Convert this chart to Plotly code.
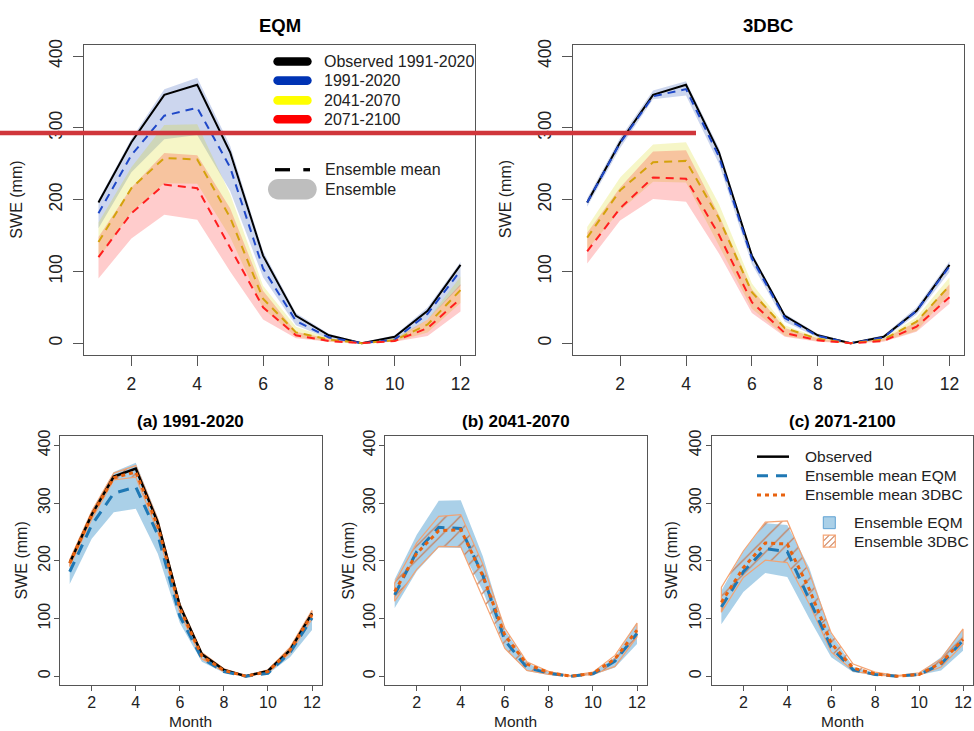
import plotly.graph_objects as go

# ---- monthly SWE climatologies (mm) ----
months = list(range(1, 13))
month_ticks = [2, 4, 6, 8, 10, 12]
swe_ticks = [0, 100, 200, 300, 400]

obs = [196, 280, 346, 360, 266, 122, 38, 11, 0, 9, 45, 109]

# EQM ensemble (mean / min / max)
eqm_hist_mean = [181, 262, 317, 328, 245, 104, 31, 8, 0, 5, 41, 101]
eqm_hist_lo = [160, 238, 284, 290, 212, 92, 25, 6, 0, 4, 33, 80]
eqm_hist_hi = [200, 285, 354, 370, 275, 128, 42, 13, 1, 11, 50, 113]

eqm_mid_mean = [141, 216, 258, 256, 175, 62, 15, 5, 0, 4, 26, 74]
eqm_mid_lo = [118, 182, 223, 222, 148, 48, 9, 2, 0, 2, 15, 56]
eqm_mid_hi = [168, 245, 304, 305, 208, 80, 23, 7, 1, 7, 33, 93]

eqm_late_mean = [120, 181, 221, 216, 133, 50, 11, 3, 0, 3, 21, 62]
eqm_late_lo = [90, 146, 179, 172, 100, 33, 7, 2, 0, 2, 10, 44]
eqm_late_hi = [148, 217, 265, 262, 188, 73, 16, 6, 1, 5, 33, 82]

# 3DBC ensemble (mean / min / max)
dbc_hist_mean = [196, 279, 344, 354, 260, 118, 35, 10, 0, 8, 45, 107]
dbc_hist_lo = [190, 272, 340, 345, 250, 110, 30, 8, 0, 6, 40, 99]
dbc_hist_hi = [202, 286, 352, 365, 272, 126, 41, 13, 1, 11, 50, 114]

dbc_mid_mean = [147, 213, 252, 254, 174, 71, 21, 6, 0, 5, 30, 80]
dbc_mid_lo = [130, 185, 225, 224, 136, 48, 10, 3, 0, 3, 17, 68]
dbc_mid_hi = [162, 231, 277, 280, 194, 83, 25, 8, 1, 7, 36, 92]

dbc_late_mean = [128, 188, 231, 229, 151, 57, 14, 4, 0, 3, 23, 64]
dbc_late_lo = [111, 171, 201, 197, 125, 42, 9, 2, 0, 2, 16, 55]
dbc_late_hi = [154, 217, 267, 269, 179, 75, 21, 7, 1, 6, 30, 82]

top_titles = ["EQM", "3DBC"]
bottom_titles = ["(a) 1991-2020", "(b) 2041-2070", "(c) 2071-2100"]
top_legend_labels = ["Observed 1991-2020", "1991-2020", "2041-2070", "2071-2100"]
top_legend2_labels = ["Ensemble mean", "Ensemble"]
bottom_legend_labels = ["Observed", "Ensemble mean EQM", "Ensemble mean 3DBC"]
bottom_legend2_labels = ["Ensemble EQM", "Ensemble 3DBC"]

# ---- canvas helpers ----
W, H = 974, 731
FONT = "Liberation Sans, Arial, sans-serif"
TXT = "#222222"
AX = "#555555"


def px(x):
    return x / W


def py(y):
    return 1 - y / H


# panel boxes in pixels: (left, right, top, bottom)
boxes = {
    "": (84, 475, 38, 351),
    "2": (572.7, 964, 38, 351),
    "3": (60, 321.7, 433.3, 685),
    "4": (385, 646.7, 433.3, 685),
    "5": (711.7, 972.7, 433.3, 685),
}

# colours
C_OBS = "#000000"
C_HIST = "#0033B4"
C_MID = "#FFFF00"
C_LATE = "#FF0000"
C_HIST_MEAN = "#1F48C8"
C_MID_MEAN = "#D4A20C"
C_LATE_MEAN = "#FF1E1E"
F_HIST = "rgba(0,51,170,0.2)"
F_MID = "rgba(215,215,0,0.22)"
F_LATE = "rgba(255,0,0,0.2)"

C_EQM = "#1F78B4"
C_DBC = "#E8620F"
F_EQM = "rgba(100,170,214,0.55)"
HATCH = "rgba(200,120,80,0.9)"
HATCH_EDGE = "rgba(244,160,110,0.95)"

fig = go.Figure()


def band(ax, lo, hi, fill):
    fig.add_trace(go.Scatter(
        x=months + months[::-1], y=hi + lo[::-1], fill="toself",
        fillcolor=fill, line=dict(width=0), mode="lines",
        xaxis="x" + ax, yaxis="y" + ax, hoverinfo="skip", showlegend=False))


def hatched_band(ax, lo, hi):
    # opaque fillcolor keeps the fill visible; the pattern background is transparent
    fig.add_trace(go.Scatter(
        x=months + months[::-1] + [months[0]], y=hi + lo[::-1] + [hi[0]],
        fill="toself", fillcolor="rgb(255,255,255)",
        fillpattern=dict(shape="/", fgcolor=HATCH, bgcolor="rgba(0,0,0,0)",
                         fillmode="replace", size=10, solidity=0.13),
        line=dict(width=1.2, color=HATCH_EDGE), mode="lines",
        xaxis="x" + ax, yaxis="y" + ax, hoverinfo="skip", showlegend=False))


def curve(ax, y, color, width, dash="solid"):
    fig.add_trace(go.Scatter(
        x=months, y=y, mode="lines", line=dict(color=color, width=width, dash=dash),
        xaxis="x" + ax, yaxis="y" + ax, showlegend=False))


# ---- top row: EQM ----
band("", eqm_hist_lo, eqm_hist_hi, F_HIST)
band("", eqm_mid_lo, eqm_mid_hi, F_MID)
band("", eqm_late_lo, eqm_late_hi, F_LATE)
curve("", obs, C_OBS, 2)
curve("", eqm_hist_mean, C_HIST_MEAN, 2, "8px,6px")
curve("", eqm_mid_mean, C_MID_MEAN, 2, "8px,6px")
curve("", eqm_late_mean, C_LATE_MEAN, 2, "8px,6px")

# ---- top row: 3DBC ----
band("2", dbc_hist_lo, dbc_hist_hi, F_HIST)
band("2", dbc_mid_lo, dbc_mid_hi, F_MID)
band("2", dbc_late_lo, dbc_late_hi, F_LATE)
curve("2", obs, C_OBS, 2)
curve("2", dbc_hist_mean, C_HIST_MEAN, 2, "8px,6px")
curve("2", dbc_mid_mean, C_MID_MEAN, 2, "8px,6px")
curve("2", dbc_late_mean, C_LATE_MEAN, 2, "8px,6px")

# ---- bottom row: per period comparison ----
periods = [
    ("3", eqm_hist_lo, eqm_hist_hi, dbc_hist_lo, dbc_hist_hi, eqm_hist_mean, dbc_hist_mean, True),
    ("4", eqm_mid_lo, eqm_mid_hi, dbc_mid_lo, dbc_mid_hi, eqm_mid_mean, dbc_mid_mean, False),
    ("5", eqm_late_lo, eqm_late_hi, dbc_late_lo, dbc_late_hi, eqm_late_mean, dbc_late_mean, False),
]
for ax, elo, ehi, dlo, dhi, emean, dmean, with_obs in periods:
    band(ax, elo, ehi, F_EQM)
    hatched_band(ax, dlo, dhi)
    if with_obs:
        curve(ax, obs, C_OBS, 2.5)
    curve(ax, emean, C_EQM, 3, "11px,8px")
    curve(ax, dmean, C_DBC, 3, "4px,4px")

# ---- axes ----
layout_axes = {}
for key, (l, r, t, b) in boxes.items():
    top = key in ("", "2")
    fs = 17.5 if top else 16
    layout_axes["xaxis" + key] = dict(
        domain=[px(l), px(r)], anchor="y" + key, range=[0.56, 12.44],
        tickvals=month_ticks, ticks="outside", ticklen=10 if top else 5,
        tickcolor=AX, showline=True, mirror=True, linecolor=AX, linewidth=1,
        showgrid=False, zeroline=False, tickfont=dict(size=fs, color=TXT, family=FONT),
        ticklabelstandoff=3 if top else -3)
    layout_axes["yaxis" + key] = dict(
        domain=[py(b), py(t)], anchor="x" + key, range=[-16, 416],
        tickvals=swe_ticks, ticks="outside", ticklen=10 if top else 5,
        tickcolor=AX, showline=True, mirror=True, linecolor=AX, linewidth=1,
        showgrid=False, zeroline=False, tickangle=-90,
        tickfont=dict(size=fs, color=TXT, family=FONT),
        ticklabelstandoff=4 if top else -2)

annotations = []
shapes = []


def text(x, y, s, size, anchor="center", angle=0, bold=False, color=TXT):
    annotations.append(dict(
        x=px(x), y=py(y), xref="paper", yref="paper", showarrow=False,
        text=f"<b>{s}</b>" if bold else s, textangle=angle,
        xanchor=anchor, yanchor="middle",
        font=dict(size=size, color=color if not bold else "#000", family=FONT)))


# titles
text(279.5, 19, top_titles[0], 18.5, bold=True)
text(768, 19, top_titles[1], 18.5, bold=True)
for (key, title) in zip(["3", "4", "5"], bottom_titles):
    l, r, t, b = boxes[key]
    text((l + r) / 2, 418.5, title, 17, bold=True)
    text((l + r) / 2, 721.5, "Month", 15.5)

# y-axis titles
for x, key in [(17, ""), (505.5, "2"), (21.7, "3"), (349, "4"), (671.7, "5")]:
    l, r, t, b = boxes[key]
    text(x, (t + b) / 2, "SWE (mm)", 16, angle=-90)


def capsule(x0, x1, yc, h, color):
    r = h / 2
    k = 0.5523 * r
    a, b = x0 + r, x1 - r

    def P(x, y):
        return f"{px(x):.6f},{py(y):.6f}"

    path = (f"M{P(a, yc - r)} L{P(b, yc - r)} "
            f"C{P(b + k, yc - r)} {P(b + r, yc - k)} {P(b + r, yc)} "
            f"C{P(b + r, yc + k)} {P(b + k, yc + r)} {P(b, yc + r)} "
            f"L{P(a, yc + r)} "
            f"C{P(a - k, yc + r)} {P(a - r, yc + k)} {P(a - r, yc)} "
            f"C{P(a - r, yc - k)} {P(a - k, yc - r)} {P(a, yc - r)} Z")
    shapes.append(dict(type="path", path=path, xref="paper", yref="paper",
                       fillcolor=color, line=dict(width=0)))


def seg(x0, y0, x1, y1, color, width, dash="solid"):
    shapes.append(dict(type="line", xref="paper", yref="paper",
                       x0=px(x0), y0=py(y0), x1=px(x1), y1=py(y1),
                       line=dict(color=color, width=width, dash=dash)))


# ---- top legend (inside EQM panel) ----
for label, color, yy in zip(top_legend_labels, [C_OBS, C_HIST, C_MID, C_LATE],
                            [55, 74.3, 94.3, 113.3]):
    capsule(273.3, 311.7, yy, 8.7, color)
    text(321.7, yy, label, 16, anchor="left")
seg(275, 164.3, 290, 164.3, "#000", 3.3)
seg(303.3, 164.3, 310, 164.3, "#000", 3.3)
text(322.7, 164.3, top_legend2_labels[0], 16, anchor="left")
capsule(268, 316.7, 184, 20.5, "#BEBEBE")
text(322.7, 184, top_legend2_labels[1], 16, anchor="left")

# ---- bottom legend (inside panel c) ----
for label, color, dash, width, yy in zip(
        bottom_legend_labels, [C_OBS, C_EQM, C_DBC],
        ["solid", "11px,8px", "4px,4px"], [2.5, 3, 3], [454, 473.3, 492.7]):
    seg(757, yy, 789, yy, color, width, dash)
    text(803.3, yy, label, 15.5, anchor="left")

bx0, bx1 = 823.3, 835.3
for yy, kind, label in [(520.7, "fill", bottom_legend2_labels[0]),
                        (539.3, "hatch", bottom_legend2_labels[1])]:
    y0, y1 = yy - 6, yy + 6
    if kind == "fill":
        shapes.append(dict(type="rect", xref="paper", yref="paper",
                           x0=px(bx0), x1=px(bx1), y0=py(y1), y1=py(y0),
                           fillcolor=F_EQM, line=dict(color="#5FA2D3", width=1)))
    else:
        for c in [bx0 + y0 + 6, bx0 + y0 + 12, bx0 + y0 + 18]:
            xa = max(bx0, c - y1)
            xb = min(bx1, c - y0)
            seg(xa, c - xa, xb, c - xb, HATCH, 1.1)
        shapes.append(dict(type="rect", xref="paper", yref="paper",
                           x0=px(bx0), x1=px(bx1), y0=py(y1), y1=py(y0),
                           fillcolor="rgba(0,0,0,0)", line=dict(color=HATCH_EDGE, width=1.2)))
    text(851.7, yy, label, 15.5, anchor="left")

# red marker line across the upper panels
seg(0, 127.2, 696, 127.2, "#D0363B", 4.3)

fig.update_layout(
    width=W, height=H, margin=dict(l=0, r=0, t=0, b=0),
    paper_bgcolor="white", plot_bgcolor="white", showlegend=False,
    font=dict(family=FONT, color=TXT),
    annotations=annotations, shapes=shapes, **layout_axes)

fig.write_html("out.html")
